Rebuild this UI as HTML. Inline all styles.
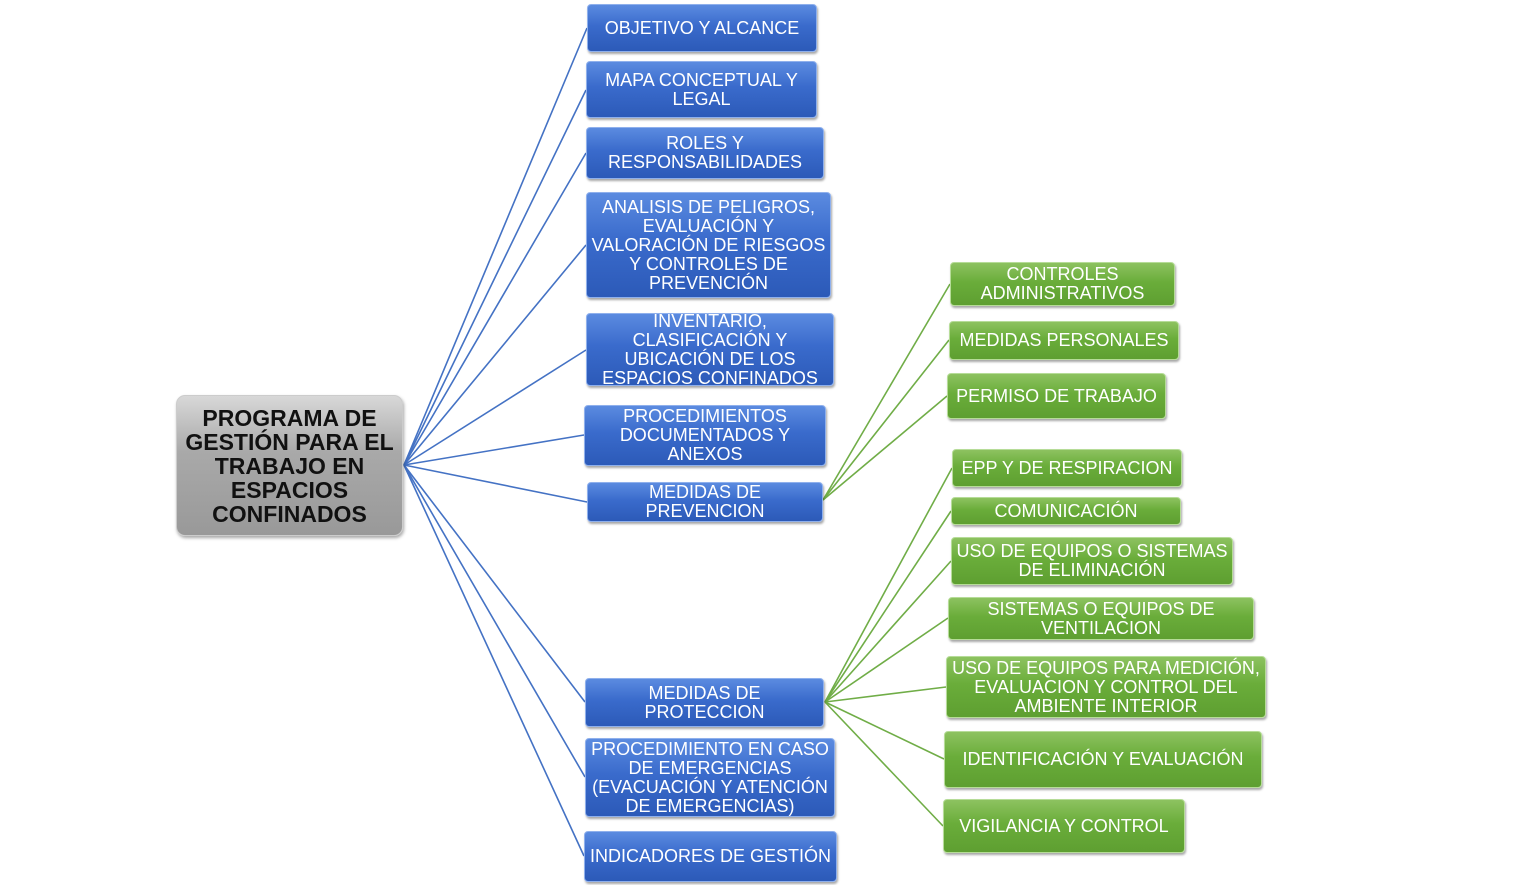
<!DOCTYPE html>
<html><head><meta charset="utf-8"><style>
body{margin:0;width:1536px;height:885px;background:#fff;position:relative;overflow:hidden;font-family:"Liberation Sans",sans-serif}
.b{position:absolute;box-sizing:border-box;display:flex;align-items:center;justify-content:center;text-align:center;color:#fff;font-size:18px;line-height:19px;border-radius:4px;overflow:visible;white-space:nowrap}
.bl{background:linear-gradient(#5b8be0,#3a6bcc 45%,#2c5ab8);border:1px solid #8fb0ec;box-shadow:1px 2px 2px rgba(0,0,0,.35)}
.gr{background:linear-gradient(#8dc260,#6aad3a 45%,#5e9f31);border:1px solid #b6dc98;box-shadow:1px 2px 2px rgba(0,0,0,.35)}
.root{background:linear-gradient(#d8d8d8,#a9a9a9 40%,#999);border:1px solid #ccc;color:#111;font-weight:bold;font-size:23px;line-height:24px;border-radius:9px;box-shadow:1px 2px 3px rgba(0,0,0,.35)}
svg{position:absolute;left:0;top:0}
</style></head><body>
<svg width="1536" height="885">
<g stroke="#4472c4" stroke-width="1.6" fill="none">
<line x1="404" y1="465" x2="587" y2="28"/>
<line x1="404" y1="465" x2="586" y2="90"/>
<line x1="404" y1="465" x2="586" y2="153"/>
<line x1="404" y1="465" x2="586" y2="245"/>
<line x1="404" y1="465" x2="586" y2="350"/>
<line x1="404" y1="465" x2="584" y2="435"/>
<line x1="404" y1="465" x2="587" y2="502"/>
<line x1="404" y1="465" x2="585" y2="702"/>
<line x1="404" y1="465" x2="585" y2="777"/>
<line x1="404" y1="465" x2="584" y2="856"/>
</g>
<g stroke="#70ad47" stroke-width="1.6" fill="none">
<line x1="823" y1="500" x2="950" y2="284"/>
<line x1="823" y1="500" x2="949" y2="340"/>
<line x1="823" y1="500" x2="947" y2="396"/>
<line x1="825" y1="702" x2="952" y2="468"/>
<line x1="825" y1="702" x2="951" y2="511"/>
<line x1="825" y1="702" x2="951" y2="561"/>
<line x1="825" y1="702" x2="948" y2="618"/>
<line x1="825" y1="702" x2="946" y2="687"/>
<line x1="825" y1="702" x2="944" y2="759"/>
<line x1="825" y1="702" x2="943" y2="826"/>
</g>
</svg>
<div class="b root" style="left:176px;top:395px;width:227px;height:141px">PROGRAMA DE<br>GESTIÓN PARA EL<br>TRABAJO EN<br>ESPACIOS<br>CONFINADOS</div>

<div class="b bl" style="left:587px;top:4px;width:230px;height:48px">OBJETIVO Y ALCANCE</div>
<div class="b bl" style="left:586px;top:61px;width:231px;height:57px">MAPA CONCEPTUAL Y<br>LEGAL</div>
<div class="b bl" style="left:586px;top:127px;width:238px;height:52px">ROLES Y<br>RESPONSABILIDADES</div>
<div class="b bl" style="left:586px;top:192px;width:245px;height:106px">ANALISIS DE PELIGROS,<br>EVALUACIÓN Y<br>VALORACIÓN DE RIESGOS<br>Y CONTROLES DE<br>PREVENCIÓN</div>
<div class="b bl" style="left:586px;top:313px;width:248px;height:73px">INVENTARIO,<br>CLASIFICACIÓN Y<br>UBICACIÓN DE LOS<br>ESPACIOS CONFINADOS</div>
<div class="b bl" style="left:584px;top:405px;width:242px;height:61px">PROCEDIMIENTOS<br>DOCUMENTADOS Y<br>ANEXOS</div>
<div class="b bl" style="left:587px;top:482px;width:236px;height:40px">MEDIDAS DE<br>PREVENCION</div>
<div class="b bl" style="left:585px;top:678px;width:239px;height:49px">MEDIDAS DE<br>PROTECCION</div>
<div class="b bl" style="left:585px;top:738px;width:250px;height:79px">PROCEDIMIENTO EN CASO<br>DE EMERGENCIAS<br>(EVACUACIÓN Y ATENCIÓN<br>DE EMERGENCIAS)</div>
<div class="b bl" style="left:584px;top:831px;width:253px;height:51px">INDICADORES DE GESTIÓN</div>

<div class="b gr" style="left:950px;top:262px;width:225px;height:44px">CONTROLES<br>ADMINISTRATIVOS</div>
<div class="b gr" style="left:949px;top:321px;width:230px;height:39px">MEDIDAS PERSONALES</div>
<div class="b gr" style="left:947px;top:373px;width:219px;height:46px">PERMISO DE TRABAJO</div>
<div class="b gr" style="left:952px;top:449px;width:230px;height:38px">EPP Y DE RESPIRACION</div>
<div class="b gr" style="left:951px;top:497px;width:230px;height:28px">COMUNICACIÓN</div>
<div class="b gr" style="left:951px;top:537px;width:282px;height:48px">USO DE EQUIPOS O SISTEMAS<br>DE ELIMINACIÓN</div>
<div class="b gr" style="left:948px;top:597px;width:306px;height:43px">SISTEMAS O EQUIPOS DE<br>VENTILACION</div>
<div class="b gr" style="left:946px;top:656px;width:320px;height:62px">USO DE EQUIPOS PARA MEDICIÓN,<br>EVALUACION Y CONTROL DEL<br>AMBIENTE INTERIOR</div>
<div class="b gr" style="left:944px;top:731px;width:318px;height:57px">IDENTIFICACIÓN Y EVALUACIÓN</div>
<div class="b gr" style="left:943px;top:799px;width:242px;height:54px">VIGILANCIA Y CONTROL</div>
</body></html>
